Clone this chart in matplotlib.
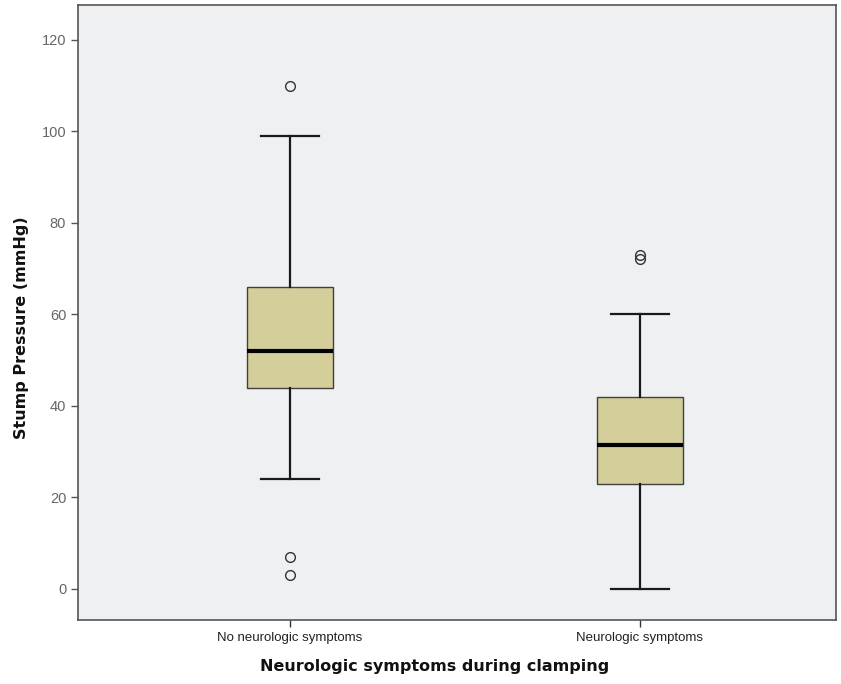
"""Stump pressure by neurologic symptoms during clamping"""
import matplotlib
matplotlib.use('Agg')
import matplotlib.pyplot as plt

# ============== DATA ==============
GROUPS = ['No neurologic symptoms', 'Neurologic symptoms']
Q1 = [44, 23]
MEDIAN = [52, 31.5]
Q3 = [66, 42]
WHISKER_LOW = [24, 0]
WHISKER_HIGH = [99, 60]
OUTLIERS = [[110, 7, 3], [73, 72]]
Y_TICKS = [0, 20, 40, 60, 80, 100, 120]
# ==================================

BOX_FILL = '#d3ce9a'
BG = '#eff0f2'

stats = []
for i, name in enumerate(GROUPS):
    stats.append(dict(label=name, q1=Q1[i], med=MEDIAN[i], q3=Q3[i],
                      whislo=WHISKER_LOW[i], whishi=WHISKER_HIGH[i],
                      fliers=OUTLIERS[i]))

fig = plt.figure(figsize=(8.41, 6.84), dpi=100)
ax = fig.add_axes([0.0927, 0.0936, 0.901, 0.899])
ax.set_facecolor(BG)

ax.bxp(stats, positions=[0, 1], widths=0.246, patch_artist=True,
       boxprops=dict(facecolor=BOX_FILL, edgecolor='#404040', lw=1.0),
       medianprops=dict(color='black', lw=3.0, solid_capstyle='butt'),
       whiskerprops=dict(color='#1a1a1a', lw=1.6),
       capprops=dict(color='#1a1a1a', lw=1.6),
       capwidths=0.165,
       flierprops=dict(marker='o', markerfacecolor='none', markeredgecolor='#333333',
                       markersize=7, markeredgewidth=1.0))

ax.set_xlim(-0.606, 1.56)
ax.set_ylim(-6.8, 127.6)
ax.set_yticks(Y_TICKS)
ax.set_xticks([0, 1])
ax.set_xticklabels(GROUPS)

ax.tick_params(axis='y', labelsize=10.5, length=5, width=1, color='#555555')
ax.tick_params(axis='x', labelsize=9.5, length=5, width=1, color='#333333')
for lbl in ax.get_yticklabels():
    lbl.set_color('#666666')
    lbl.set_family('Liberation Sans')
for lbl in ax.get_xticklabels():
    lbl.set_color('#222222')
    lbl.set_family('Liberation Sans')

for side in ['left', 'bottom', 'top', 'right']:
    ax.spines[side].set_color('#555555')
    ax.spines[side].set_linewidth(1.2)

ax.set_ylabel('Stump Pressure (mmHg)', fontsize=11.5, fontweight='bold', color='#111111')
ax.set_xlabel('Neurologic symptoms during clamping', fontsize=11.5, fontweight='bold', color='#111111')
ax.yaxis.set_label_coords(-0.0646, 0.476)
ax.xaxis.set_label_coords(0.471, -0.063)

fig.savefig('out.png', dpi=100)
